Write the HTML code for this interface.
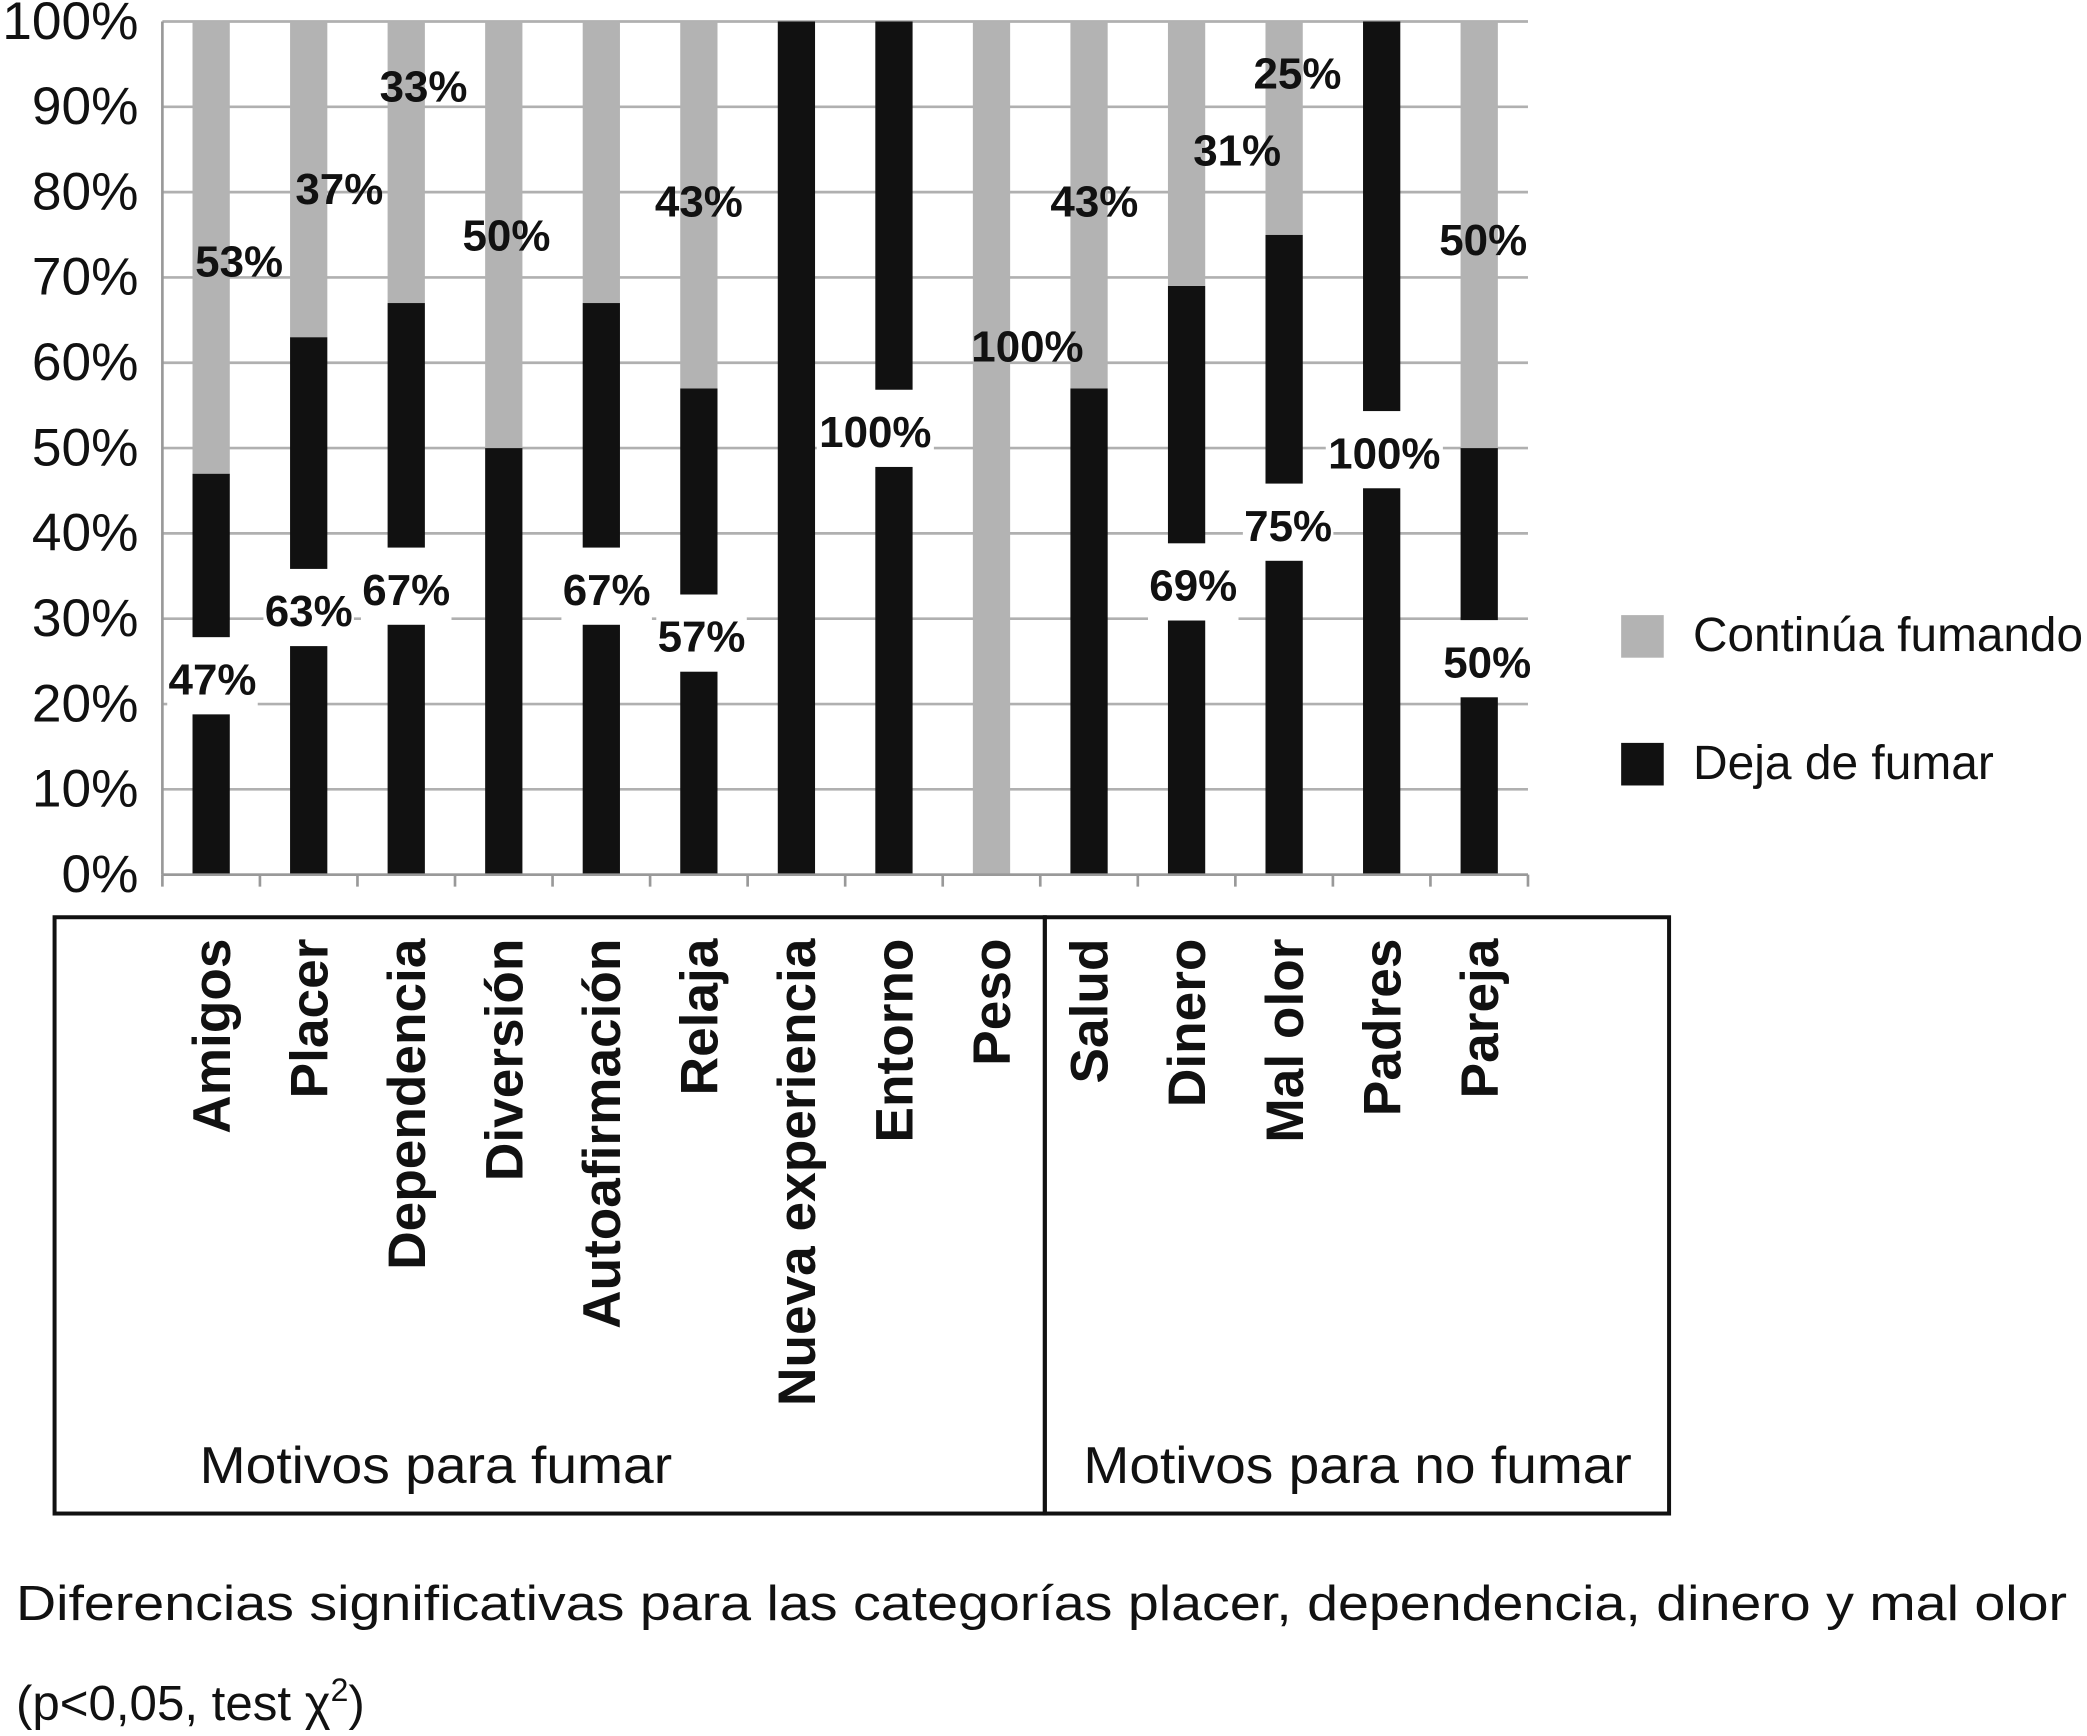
<!DOCTYPE html>
<html><head><meta charset="utf-8"><style>
html,body{margin:0;padding:0;background:#fff;}
svg{display:block;font-family:"Liberation Sans",Arial,sans-serif;}
</style></head><body>
<svg id="chart" width="2087" height="1736" viewBox="0 0 1568 1304" xmlns="http://www.w3.org/2000/svg">
<g id="grid"></g>
<g id="bars"></g>
<g id="labels"></g>
<g id="yaxis"></g>
<g id="xaxis"></g>
<rect x="41" y="689" width="744" height="448" fill="none" stroke="#111" stroke-width="3"/>
<rect x="785" y="689" width="469" height="448" fill="none" stroke="#111" stroke-width="3"/>
<text x="150" y="1114" font-size="39" fill="#111" textLength="355" lengthAdjust="spacingAndGlyphs">Motivos para fumar</text>
<text x="814" y="1114" font-size="39" fill="#111" textLength="412" lengthAdjust="spacingAndGlyphs">Motivos para no fumar</text>
<g>
<rect x="1218" y="462" width="32" height="32" fill="#b3b3b3"/>
<text x="1272" y="489" font-size="36" fill="#111" textLength="293" lengthAdjust="spacingAndGlyphs">Continúa fumando</text>
<rect x="1218" y="558" width="32" height="32" fill="#111"/>
<text x="1272" y="585" font-size="36" fill="#111" textLength="226" lengthAdjust="spacingAndGlyphs">Deja de fumar</text>
</g>
<text x="12" y="1217" font-size="37" fill="#111" textLength="1541" lengthAdjust="spacingAndGlyphs">Diferencias significativas para las categorías placer, dependencia, dinero y mal olor</text>
<text x="12" y="1292" font-size="37" fill="#111">(p&lt;0,05, test χ<tspan font-size="24" dy="-14">2</tspan><tspan dy="14">)</tspan></text>
</svg>
<script>
const categories = ["Amigos","Placer","Dependencia","Diversión","Autoafirmación","Relaja","Nueva experiencia","Entorno","Peso","Salud","Dinero","Mal olor","Padres","Pareja"];
const dejaValues = [47,63,67,50,67,57,100,100,0,57,69,75,100,50];
const continuaValues = [53,37,33,50,33,43,0,0,100,43,31,25,0,50];
const dejaLabelShown = [true,true,true,false,true,true,false,true,false,false,true,true,true,true];
const continuaLabelShown = [true,true,true,true,false,true,false,false,true,true,true,true,false,true];
const yTicks = [0,10,20,30,40,50,60,70,80,90,100];
// label placement tweaks (value units / px), not data
const dejaLabelY = [23,31,33.5,0,33.5,28,0,52,0,0,34,41,49.5,25];
const dejaLabelDx = [1,0,0,0,4,2,0,-14,0,0,5,3,2,6];
const contLabelY = [72,80.5,92.5,75,0,79,0,0,62,79,85,94,0,74.5];
const contLabelDx = [21,23,13,2,0,0,0,0,27,4,38,10,0,3];

const NS="http://www.w3.org/2000/svg";
const X0=122, X1=1148, Y0=657, Y1=16;
const n=categories.length, bw=(X1-X0)/n, barW=28;
const y=v=>Y0-(Y0-Y1)*v/100;
const xc=i=>X0+bw*(i+0.5);
function mk(tag,attrs,parent){const e=document.createElementNS(NS,tag);for(const k in attrs)e.setAttribute(k,attrs[k]);parent.appendChild(e);return e;}
const grid=document.getElementById('grid'),bars=document.getElementById('bars'),labels=document.getElementById('labels'),yaxis=document.getElementById('yaxis'),xaxis=document.getElementById('xaxis');
yTicks.forEach(t=>{
  const l=mk('line',{x1:X0,x2:X1,y1:y(t),y2:y(t),stroke:'#b0b0b0','stroke-width':2},grid);
  
  
  const tx=mk('text',{x:104,y:y(t)+13,'font-size':40,'text-anchor':'end',fill:'#111'},yaxis);
  tx.textContent=t+'%';
  
  
});
const ax=mk('line',{x1:X0,x2:X0,y1:Y1,y2:Y0,stroke:'#999','stroke-width':2},yaxis);


const bx=mk('line',{x1:X0,x2:X1,y1:Y0,y2:Y0,stroke:'#999','stroke-width':2},xaxis);


for(let i=0;i<=n;i++){
  const tk=mk('line',{x1:X0+bw*i,x2:X0+bw*i,y1:Y0,y2:Y0+9,stroke:'#999','stroke-width':2},xaxis);
  
  
}
categories.forEach((c,i)=>{
  const d=dejaValues[i], k=continuaValues[i];
  if(d>0){const r=mk('rect',{x:xc(i)-barW/2,y:y(d),width:barW,height:y(0)-y(d),fill:'#111'},bars);
    
    }
  if(k>0){const r=mk('rect',{x:xc(i)-barW/2,y:y(d+k),width:barW,height:y(d)-y(d+k),fill:'#b3b3b3'},bars);
    
    }
  const lt=mk('text',{x:xc(i)+14,y:705,'font-size':40,'font-weight':'bold','text-anchor':'end',fill:'#111',transform:`rotate(-90 ${xc(i)+14} 705)`},xaxis);
  lt.textContent=c;
  
  
  if(dejaLabelShown[i]){
    const cx=xc(i)+dejaLabelDx[i], cy=y(dejaLabelY[i]);
    const txt=d+'%', w=txt.length*20+8;
    const bg=mk('rect',{x:cx-w/2,y:cy-31,width:w,height:58,fill:'#fff'},labels);
    
    
    const t=mk('text',{x:cx,y:cy+12,'font-size':33,'font-weight':'bold','text-anchor':'middle',fill:'#111'},labels);
    t.textContent=txt;
    
    
  }
  if(continuaLabelShown[i]){
    const cx=xc(i)+contLabelDx[i], cy=y(contLabelY[i]);
    const t=mk('text',{x:cx,y:cy+12,'font-size':33,'font-weight':'bold','text-anchor':'middle',fill:'#111'},labels);
    t.textContent=k+'%';
    
    
  }
});
</script>
</body></html>
